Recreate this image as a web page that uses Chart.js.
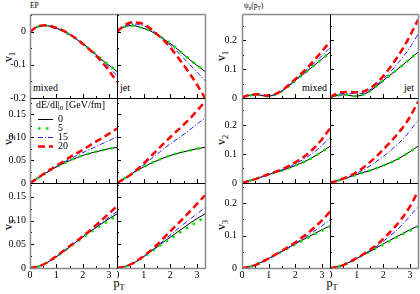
<!DOCTYPE html>
<html>
<head>
<meta charset="utf-8">
<script src="https://cdn.jsdelivr.net/npm/chart.js@4.4.1/dist/chart.umd.min.js"></script>
<style>
  body { margin: 0; width: 420px; height: 294px; position: relative; overflow: hidden; background: #fff; font-family: "Liberation Serif", "DejaVu Serif", serif; color: #000; }
  canvas { position: absolute; }
  .lbl { position: absolute; font-size: 10px; line-height: 10px; white-space: nowrap; }
  .ttl { position: absolute; font-size: 7.5px; line-height: 8px; white-space: nowrap; }
  .yt { position: absolute; width: 24px; height: 14px; margin-left: -12px; margin-top: -7px; font-size: 12px; line-height: 14px; text-align: center; transform: rotate(-90deg); white-space: nowrap; }
  .xt { position: absolute; width: 24px; margin-left: -12px; font-size: 12px; line-height: 12px; text-align: center; white-space: nowrap; }
  sub { font-size: 70%; vertical-align: -0.35em; line-height: 0; }
</style>
</head>
<body>
<div class="ttl" style="left:30px;top:2px">EP</div>
<div class="ttl" style="left:244px;top:2px">ψ<sub>n</sub>(p<sub>T</sub>)</div>

<div class="yt" style="left:8px;top:57px">v<sub>1</sub></div>
<div class="yt" style="left:8px;top:140px">v<sub>2</sub></div>
<div class="yt" style="left:8px;top:225px">v<sub>3</sub></div>
<div class="yt" style="left:221px;top:56px">v<sub>1</sub></div>
<div class="yt" style="left:221px;top:140px">v<sub>2</sub></div>
<div class="yt" style="left:221px;top:225px">v<sub>3</sub></div>

<div class="xt" style="left:119px;top:277px">p<sub>T</sub></div>
<div class="xt" style="left:332px;top:277px">p<sub>T</sub></div>

<div class="lbl" style="left:33px;top:83px">mixed</div>
<div class="lbl" style="left:120px;top:83px">jet</div>
<div class="lbl" style="right:93px;top:83px">mixed</div>
<div class="lbl" style="right:6px;top:83px">jet</div>

<script>
// transverse momentum grid shared by all curves
const pT = [0, 0.3, 0.6, 0.9, 1.2, 1.5, 1.8, 2.1, 2.4, 2.7, 3.0, 3.3];
const lossLabels = ['0', '5', '15', '20'];

// EP, v1
const ep1Zero    = [0, 0.015, 0.018, 0.012, 0.004, -0.009, -0.025, -0.042, -0.062, -0.083, -0.102, -0.12];
const ep1Mixed5  = [0, 0.015, 0.018, 0.012, 0.004, -0.009, -0.025, -0.043, -0.062, -0.082, -0.101, -0.119];
const ep1Mixed15 = [0, 0.015, 0.018, 0.013, 0.004, -0.009, -0.025, -0.043, -0.063, -0.085, -0.108, -0.133];
const ep1Mixed20 = [0, 0.016, 0.019, 0.014, 0.005, -0.008, -0.024, -0.043, -0.064, -0.089, -0.118, -0.152];
const ep1Jet5    = [0, 0.015, 0.018, 0.012, 0.004, -0.009, -0.025, -0.042, -0.062, -0.082, -0.101, -0.118];
const ep1Jet15   = [0, 0.017, 0.023, 0.02, 0.01, -0.006, -0.026, -0.048, -0.072, -0.097, -0.122, -0.148];
const ep1Jet20   = [0, 0.02, 0.028, 0.025, 0.012, -0.008, -0.03, -0.058, -0.09, -0.123, -0.16, -0.2];

// EP, v2
const ep2Zero    = [0, 0.011, 0.022, 0.032, 0.041, 0.049, 0.056, 0.062, 0.067, 0.071, 0.075, 0.078];
const ep2Mixed5  = [0, 0.011, 0.022, 0.032, 0.041, 0.049, 0.056, 0.062, 0.067, 0.071, 0.075, 0.078];
const ep2Mixed15 = [0, 0.011, 0.022, 0.033, 0.043, 0.052, 0.061, 0.069, 0.077, 0.085, 0.093, 0.101];
const ep2Mixed20 = [0, 0.011, 0.023, 0.034, 0.045, 0.056, 0.066, 0.076, 0.087, 0.097, 0.108, 0.119];
const ep2Jet5    = [0, 0.011, 0.022, 0.032, 0.041, 0.049, 0.056, 0.062, 0.067, 0.071, 0.075, 0.078];
const ep2Jet15   = [0, 0.01, 0.022, 0.035, 0.049, 0.063, 0.077, 0.09, 0.102, 0.115, 0.129, 0.142];
const ep2Jet20   = [0, 0.01, 0.022, 0.037, 0.054, 0.072, 0.089, 0.106, 0.122, 0.139, 0.158, 0.178];

// EP, v3
const ep3Zero    = [0, 0.003, 0.01, 0.02, 0.032, 0.044, 0.057, 0.069, 0.081, 0.093, 0.104, 0.114];
const ep3Mixed5  = [0, 0.003, 0.01, 0.02, 0.032, 0.044, 0.056, 0.068, 0.079, 0.09, 0.1, 0.11];
const ep3Mixed15 = [0, 0.003, 0.01, 0.02, 0.032, 0.044, 0.057, 0.07, 0.082, 0.095, 0.107, 0.119];
const ep3Mixed20 = [0, 0.003, 0.01, 0.021, 0.033, 0.046, 0.058, 0.071, 0.085, 0.1, 0.115, 0.13];
const ep3Jet5    = [0, 0.003, 0.01, 0.02, 0.031, 0.043, 0.054, 0.065, 0.076, 0.087, 0.097, 0.107];
const ep3Jet15   = [0, 0.003, 0.01, 0.02, 0.032, 0.046, 0.06, 0.074, 0.088, 0.101, 0.114, 0.127];
const ep3Jet20   = [0, 0.003, 0.01, 0.021, 0.034, 0.049, 0.066, 0.083, 0.1, 0.117, 0.135, 0.153];

// psi_n(pT), v1
const ps1Zero    = [0.002, 0.009, 0.011, 0.006, 0.01, 0.024, 0.045, 0.068, 0.09, 0.112, 0.135, 0.158];
const ps1Mixed5  = [0.002, 0.009, 0.011, 0.006, 0.01, 0.024, 0.045, 0.068, 0.09, 0.112, 0.135, 0.158];
const ps1Mixed15 = [0.002, 0.01, 0.012, 0.008, 0.011, 0.025, 0.047, 0.071, 0.095, 0.12, 0.146, 0.174];
const ps1Mixed20 = [0.002, 0.011, 0.013, 0.009, 0.012, 0.026, 0.049, 0.074, 0.1, 0.13, 0.161, 0.195];
const ps1Jet5    = [0.002, 0.009, 0.011, 0.006, 0.01, 0.024, 0.045, 0.068, 0.09, 0.112, 0.135, 0.158];
const ps1Jet15   = [0.002, 0.013, 0.016, 0.015, 0.016, 0.028, 0.049, 0.075, 0.104, 0.137, 0.175, 0.22];
const ps1Jet20   = [0.003, 0.017, 0.021, 0.02, 0.021, 0.033, 0.056, 0.087, 0.124, 0.166, 0.215, 0.27];

// psi_n(pT), v2
const ps2Zero    = [0, 0.008, 0.017, 0.026, 0.035, 0.043, 0.053, 0.064, 0.076, 0.091, 0.108, 0.127];
const ps2Mixed5  = [0, 0.008, 0.017, 0.026, 0.035, 0.043, 0.053, 0.064, 0.076, 0.091, 0.108, 0.127];
const ps2Mixed15 = [0, 0.008, 0.017, 0.026, 0.036, 0.045, 0.057, 0.071, 0.087, 0.106, 0.13, 0.157];
const ps2Mixed20 = [0, 0.008, 0.017, 0.027, 0.037, 0.047, 0.061, 0.077, 0.096, 0.12, 0.151, 0.188];
const ps2Jet5    = [0, 0.008, 0.017, 0.026, 0.035, 0.043, 0.053, 0.064, 0.076, 0.091, 0.108, 0.127];
const ps2Jet15   = [0, 0.009, 0.018, 0.029, 0.043, 0.059, 0.078, 0.099, 0.122, 0.148, 0.18, 0.217];
const ps2Jet20   = [0, 0.009, 0.019, 0.032, 0.05, 0.072, 0.097, 0.125, 0.155, 0.188, 0.228, 0.28];

// psi_n(pT), v3
const ps3Zero    = [0, 0.004, 0.013, 0.025, 0.038, 0.051, 0.065, 0.079, 0.092, 0.105, 0.118, 0.13];
const ps3Mixed5  = [0, 0.004, 0.013, 0.025, 0.038, 0.051, 0.064, 0.077, 0.09, 0.103, 0.115, 0.127];
const ps3Mixed15 = [0, 0.004, 0.013, 0.025, 0.038, 0.052, 0.066, 0.081, 0.097, 0.113, 0.13, 0.149];
const ps3Mixed20 = [0, 0.004, 0.013, 0.025, 0.039, 0.053, 0.068, 0.085, 0.103, 0.124, 0.147, 0.174];
const ps3Jet5    = [0, 0.004, 0.013, 0.025, 0.038, 0.051, 0.064, 0.077, 0.09, 0.103, 0.115, 0.127];
const ps3Jet15   = [0, 0.004, 0.013, 0.025, 0.039, 0.054, 0.07, 0.089, 0.109, 0.133, 0.16, 0.19];
const ps3Jet20   = [0, 0.004, 0.013, 0.026, 0.04, 0.056, 0.075, 0.098, 0.124, 0.153, 0.19, 0.236];

// axis ranges per row
const epYMin = [-0.2, 0, 0];
const epYMax = [0.053, 0.186, 0.179];
const epYStep = [0.1, 0.05, 0.05];
const psYMin = [0, 0, 0];
const psYMax = [0.29, 0.293, 0.262];
const psYStep = [0.1, 0.1, 0.1];
const xMax = 3.3;

const panels = [
  { g: 'ep', row: 0, col: 0, series: [ep1Zero, ep1Mixed5, ep1Mixed15, ep1Mixed20] },
  { g: 'ep', row: 0, col: 1, series: [ep1Zero, ep1Jet5, ep1Jet15, ep1Jet20] },
  { g: 'ep', row: 1, col: 0, series: [ep2Zero, ep2Mixed5, ep2Mixed15, ep2Mixed20], legend: true },
  { g: 'ep', row: 1, col: 1, series: [ep2Zero, ep2Jet5, ep2Jet15, ep2Jet20] },
  { g: 'ep', row: 2, col: 0, series: [ep3Zero, ep3Mixed5, ep3Mixed15, ep3Mixed20] },
  { g: 'ep', row: 2, col: 1, series: [ep3Zero, ep3Jet5, ep3Jet15, ep3Jet20] },
  { g: 'ps', row: 0, col: 0, series: [ps1Zero, ps1Mixed5, ps1Mixed15, ps1Mixed20] },
  { g: 'ps', row: 0, col: 1, series: [ps1Zero, ps1Jet5, ps1Jet15, ps1Jet20] },
  { g: 'ps', row: 1, col: 0, series: [ps2Zero, ps2Mixed5, ps2Mixed15, ps2Mixed20] },
  { g: 'ps', row: 1, col: 1, series: [ps2Zero, ps2Jet5, ps2Jet15, ps2Jet20] },
  { g: 'ps', row: 2, col: 0, series: [ps3Zero, ps3Mixed5, ps3Mixed15, ps3Mixed20] },
  { g: 'ps', row: 2, col: 1, series: [ps3Zero, ps3Jet5, ps3Jet15, ps3Jet20] }
];

const colX = { ep: [30, 117, 205], ps: [242, 330, 418] };
const rowY = [14, 98, 183, 268];

const lineStyles = [
  { borderColor: '#000000', borderWidth: 1, borderDash: [], order: 4 },
  { borderColor: '#00e600', borderWidth: 2.5, borderDash: [2.5, 5.5], order: 3 },
  { borderColor: '#2020ff', borderWidth: 1, borderDash: [5, 2, 1, 2], order: 2 },
  { borderColor: '#ff0000', borderWidth: 2.5, borderDash: [7, 4], order: 1 }
];

const serif = '"Liberation Serif", "DejaVu Serif", serif';
const tickFont = { family: serif, size: 10 };

// panel frame with inward major/minor ticks
const framePlugin = {
  id: 'frame',
  afterDatasetsDraw(chart, args, o) {
    const { ctx, chartArea: a } = chart;
    const x = chart.scales.x, y = chart.scales.y;
    ctx.save();
    ctx.strokeStyle = '#000';
    ctx.lineWidth = 1;
    ctx.beginPath();
    for (let i = 1; i * 0.5 < x.max; i++) {
      const px = Math.round(x.getPixelForValue(i * 0.5)) + 0.5;
      const len = i % 2 === 0 ? 4 : 2;
      ctx.moveTo(px, a.bottom); ctx.lineTo(px, a.bottom - len);
    }
    const minor = o.minor;
    const n0 = Math.ceil(y.min / minor - 1e-6), n1 = Math.floor(y.max / minor + 1e-6);
    for (let i = n0; i <= n1; i++) {
      const py = Math.round(y.getPixelForValue(i * minor)) + 0.5;
      const len = i % 2 === 0 ? 4 : 2;
      ctx.moveTo(a.left, py); ctx.lineTo(a.left + len, py);
    }
    ctx.stroke();

    const side = (outer, x1, y1, x2, y2) => {
      ctx.beginPath();
      ctx.strokeStyle = outer ? '#8a8a8a' : '#000';
      ctx.lineWidth = outer ? 1.5 : 1;
      ctx.moveTo(x1, y1); ctx.lineTo(x2, y2);
      ctx.stroke();
    };
    const l = a.left + 0.5, r = a.right + 0.5, t = a.top + 0.5, b = a.bottom + 0.5;
    side(o.row === 0, l, t, r, t);
    side(o.row === 2, l, b, r, b);
    side(o.col === 0, l, t, l, b);
    side(o.col === 1, r, t, r, b);
    ctx.restore();
  }
};

// legend drawn inside the EP mixed v2 panel
const legendPlugin = {
  id: 'inlegend',
  afterDraw(chart, args, o) {
    if (!o.show) return;
    const { ctx, chartArea: a } = chart;
    ctx.save();
    ctx.fillStyle = '#000';
    ctx.textBaseline = 'middle';
    ctx.font = '10px ' + serif;
    let tx = a.left + 6;
    const ty = a.top + 7;
    ctx.fillText('dE/dl|', tx, ty);
    tx += ctx.measureText('dE/dl|').width;
    ctx.font = '7px ' + serif;
    ctx.fillText('0', tx, ty + 3);
    tx += ctx.measureText('0').width;
    ctx.font = '10px ' + serif;
    ctx.fillText(' [GeV/fm]', tx, ty);
    chart.data.datasets.forEach((ds, i) => {
      const yy = Math.round(a.top + 20.5 + i * 9.2) + 0.5;
      ctx.beginPath();
      ctx.strokeStyle = ds.borderColor;
      ctx.lineWidth = ds.borderWidth;
      ctx.setLineDash(ds.borderDash);
      ctx.moveTo(a.left + 8, yy);
      ctx.lineTo(a.left + 23, yy);
      ctx.stroke();
      ctx.setLineDash([]);
      ctx.fillText(ds.label, a.left + 28, yy);
    });
    ctx.restore();
  }
};

panels.forEach(p => {
  const cols = colX[p.g];
  const x0 = cols[p.col], w = cols[p.col + 1] - cols[p.col];
  const y0 = rowY[p.row], h = rowY[p.row + 1] - rowY[p.row];
  const L = p.col === 0 ? 34 : 0;
  const B = p.row === 2 ? 14 : 0;
  const padT = 6, padB = 6, padR = 3;

  const canvas = document.createElement('canvas');
  canvas.width = L + w + padR;
  canvas.height = padT + h + B + padB;
  canvas.style.left = (x0 - L) + 'px';
  canvas.style.top = (y0 - padT) + 'px';
  document.body.appendChild(canvas);

  const yMin = p.g === 'ep' ? epYMin[p.row] : psYMin[p.row];
  const yMax = p.g === 'ep' ? epYMax[p.row] : psYMax[p.row];
  const yStep = p.g === 'ep' ? epYStep[p.row] : psYStep[p.row];

  new Chart(canvas, {
    type: 'line',
    data: {
      datasets: p.series.map((vals, i) => Object.assign({
        label: lossLabels[i],
        data: vals.map((v, k) => ({ x: pT[k], y: v })),
        pointRadius: 0,
        fill: false,
        cubicInterpolationMode: 'monotone',
        borderCapStyle: 'butt'
      }, lineStyles[i]))
    },
    options: {
      responsive: false,
      animation: false,
      events: [],
      layout: { padding: { top: padT, bottom: padB, left: 0, right: padR } },
      plugins: {
        legend: { display: false },
        tooltip: { enabled: false },
        frame: { row: p.row, col: p.col, minor: yStep / 2 },
        inlegend: { show: !!p.legend }
      },
      scales: {
        x: {
          type: 'linear',
          min: 0,
          max: xMax,
          display: p.row === 2,
          grid: { display: false, drawTicks: false },
          border: { display: false },
          ticks: { stepSize: 1, includeBounds: false, color: '#000', font: tickFont, padding: 1, maxRotation: 0 },
          afterFit(s) { s.height = B; s.paddingLeft = 0; s.paddingRight = 0; s.paddingTop = 0; s.paddingBottom = 0; }
        },
        y: {
          type: 'linear',
          min: yMin,
          max: yMax,
          display: p.col === 0,
          grid: { display: false, drawTicks: false },
          border: { display: false },
          ticks: { stepSize: yStep, includeBounds: false, color: '#000', font: tickFont, padding: p.g === 'ep' ? 4 : 5 },
          afterFit(s) { s.width = L; s.paddingLeft = 0; s.paddingRight = 0; s.paddingTop = 0; s.paddingBottom = 0; }
        }
      }
    },
    plugins: [framePlugin, legendPlugin]
  });
});
</script>
</body>
</html>
